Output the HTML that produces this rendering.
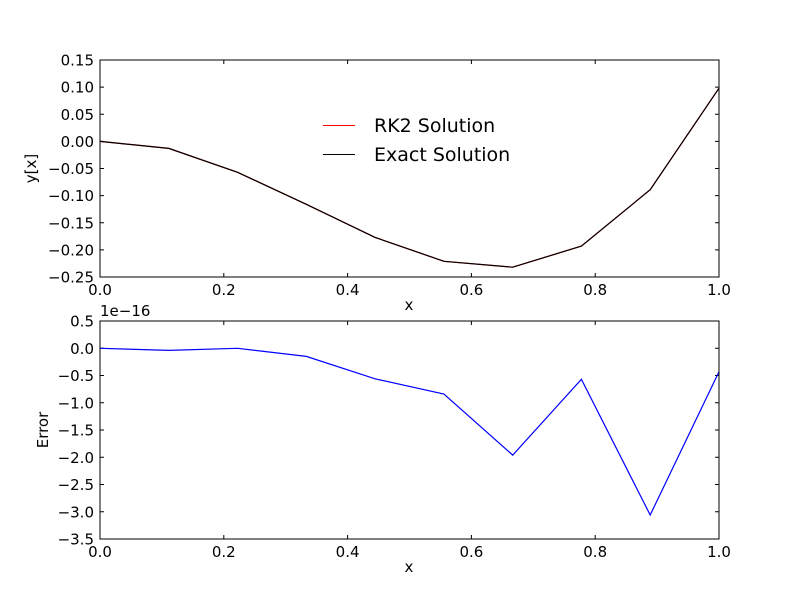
<!DOCTYPE html>
<html><head><meta charset="utf-8"><style>
body{margin:0;background:#fff;}
svg{display:block;font-family:"DejaVu Sans","Liberation Sans",sans-serif;}
</style></head><body>
<svg id="chart" width="800" height="600">
<rect width="800" height="600" fill="#fff"/>
<g id="top"></g>
<g id="bot"></g>
</svg>
<script>
const xVals=[0,1/9,2/9,3/9,4/9,5/9,6/9,7/9,8/9,1];
const rk2Vals=[0,-0.013,-0.057,-0.116,-0.177,-0.221,-0.232,-0.193,-0.089,0.098];
const exactVals=[0,-0.013,-0.057,-0.116,-0.177,-0.221,-0.232,-0.193,-0.089,0.098];
const errVals=[0,-0.04,0,-0.15,-0.56,-0.84,-1.96,-0.57,-3.06,-0.43];
const xTicks=[0,0.2,0.4,0.6,0.8,1.0];
const xTickLabels=["0.0","0.2","0.4","0.6","0.8","1.0"];
const topTicks=[-0.25,-0.2,-0.15,-0.1,-0.05,0,0.05,0.1,0.15];
const topTickLabels=["\u22120.25","\u22120.20","\u22120.15","\u22120.10","\u22120.05","0.00","0.05","0.10","0.15"];
const botTicks=[-3.5,-3,-2.5,-2,-1.5,-1,-0.5,0,0.5];
const botTickLabels=["\u22123.5","\u22123.0","\u22122.5","\u22122.0","\u22121.5","\u22121.0","\u22120.5","0.0","0.5"];
const NS="http://www.w3.org/2000/svg";
function mk(p,t,a,txt){const e=document.createElementNS(NS,t);for(const k in a)e.setAttribute(k,a[k]);if(txt!==undefined)e.textContent=txt;p.appendChild(e);return e;}
function axes(g,top,bot,ymin,ymax,yt,ytl,ylabel,name,ylx){
 const L=100,R=719;
 const sx=v=>L+(v-0)*(R-L);
 const sy=v=>bot-(v-ymin)/(ymax-ymin)*(bot-top);
 xTicks.forEach((v,i)=>{const x=sx(v);
  let t=mk(g,'line',{x1:x,x2:x,y1:bot,y2:bot-4,stroke:'#000'});
  mk(g,'line',{x1:x,x2:x,y1:top,y2:top+4,stroke:'#000'});
  let l=mk(g,'text',{x:x,y:bot+18,'text-anchor':'middle','font-size':15},xTickLabels[i]);});
 yt.forEach((v,i)=>{const y=sy(v);
  mk(g,'line',{x1:L,x2:L+4,y1:y,y2:y,stroke:'#000'});
  mk(g,'line',{x1:R,x2:R-4,y1:y,y2:y,stroke:'#000'});
  let l=mk(g,'text',{x:L-6,y:y+5.5,'text-anchor':'end','font-size':15},ytl[i]);});
 let xl=mk(g,'text',{x:409,y:bot+33,'text-anchor':'middle','font-size':15},'x');
 const cy=(top+bot)/2;
 let yl=mk(g,'text',{x:0,y:0,'text-anchor':'middle','font-size':15,transform:`translate(${ylx},${cy}) rotate(-90)`},ylabel);
 return {sx,sy,frame:()=>{let f=mk(g,'rect',{x:L,y:top,width:R-L,height:bot-top,fill:'none',stroke:'#000'});}};
}
function line(g,xs,ys,ax,color,name){
 const pts=xs.map((x,i)=>ax.sx(x).toFixed(1)+','+ax.sy(ys[i]).toFixed(1)).join(' ');
 const p=mk(g,'polyline',{points:pts,fill:'none',stroke:color,'stroke-width':1.2});
 
}
const gt=document.getElementById('top'),gb=document.getElementById('bot');
const a1=axes(gt,60,277,-0.25,0.15,topTicks,topTickLabels,'y[x]','top-axes',36);
line(gt,xVals,rk2Vals,a1,'#ff0000','rk2-line');
line(gt,xVals,exactVals,a1,'#000000','exact-line');
a1.frame();
const lg=mk(gt,'g',{});
let r1=mk(lg,'rect',{x:323,y:125,width:32,height:1,fill:'#ff0000'});
let t1=mk(lg,'text',{x:374,y:132,'font-size':19},'RK2 Solution');
let r2=mk(lg,'rect',{x:323,y:154,width:32,height:1,fill:'#000'});
let t2=mk(lg,'text',{x:374,y:161,'font-size':19},'Exact Solution');
const a2=axes(gb,321,539,-3.5,0.5,botTicks,botTickLabels,'Error','bottom-axes',48);
line(gb,xVals,errVals,a2,'#0000ff','error-line');
a2.frame();
let off=mk(gb,'text',{x:100,y:316,'font-size':15},'1e\u221216');
</script>
</body></html>
